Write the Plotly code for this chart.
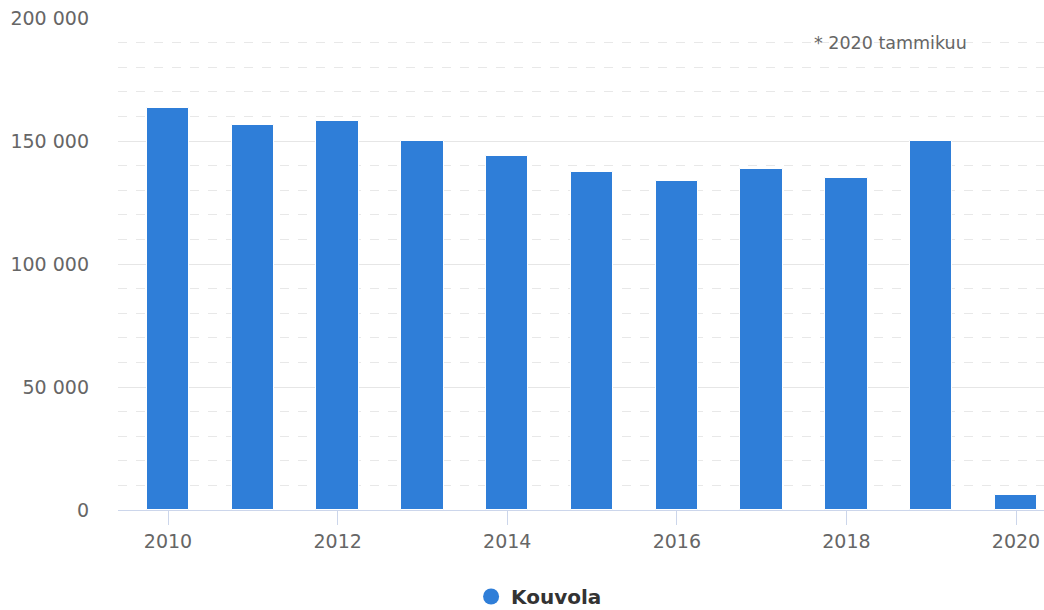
import plotly.graph_objects as go

years = [2010, 2011, 2012, 2013, 2014, 2015, 2016, 2017, 2018, 2019, 2020]
values = [163400, 156500, 158100, 150000, 143900, 137400, 133700, 138600, 135000, 150000, 6100]
series_name = "Kouvola"
note_text = "* 2020 tammikuu"

color = "#2f7ed8"
font_family = "DejaVu Sans"

fig = go.Figure()
fig.add_trace(go.Bar(
    x=years, y=values, name=series_name, width=0.5,
    marker=dict(color=color, line=dict(color="white", width=1)),
    showlegend=False,
))
# legend entry with circular symbol
fig.add_trace(go.Scatter(
    x=[None], y=[None], mode="markers", name=series_name,
    marker=dict(color=color, size=20, symbol="circle"),
    showlegend=True,
))

fig.update_layout(
    width=1044, height=616,
    margin=dict(l=118, r=0, t=18, b=106),
    paper_bgcolor="white", plot_bgcolor="white",
    separators=", ",
    font=dict(family=font_family, size=19, color="#666666"),
    showlegend=True,
    legend=dict(
        orientation="h", x=0.3813, xanchor="left", y=-106 / 492, yanchor="bottom",
        font=dict(family=font_family, size=20, color="#333333", weight="bold"),
        itemsizing="trace",
    ),
    bargap=0,
    annotations=[dict(
        text=note_text, xref="paper", yref="paper", x=0.834, y=0.949,
        xanchor="center", yanchor="middle", showarrow=False,
        font=dict(family=font_family, size=17.5, color="#666666"),
    )],
)

fig.update_xaxes(
    range=[2009.41, 2020.33], tick0=2010, dtick=2,
    showgrid=False, showline=True, linecolor="#ccd6eb", linewidth=1,
    ticks="outside", ticklen=14, tickcolor="#ccd6eb", tickwidth=1,
    tickfont=dict(size=19, color="#666666"), zeroline=False,
)
fig.update_yaxes(
    range=[0, 200000], dtick=50000, tickformat=",d",
    showgrid=True, gridcolor="#e6e6e6", gridwidth=1,
    zeroline=False, showline=False, ticks="",
    ticklabelstandoff=28, ticklabeloverflow="allow",
    tickfont=dict(size=19, color="#666666"),
    minor=dict(dtick=10000, showgrid=True, gridcolor="#e8e8e8", griddash="dash", gridwidth=1),
)

fig.write_html(
    "out.html",
    config={"displayModeBar": False},
    post_script="document.body.style.margin='0';document.body.style.overflow='hidden';",
)
